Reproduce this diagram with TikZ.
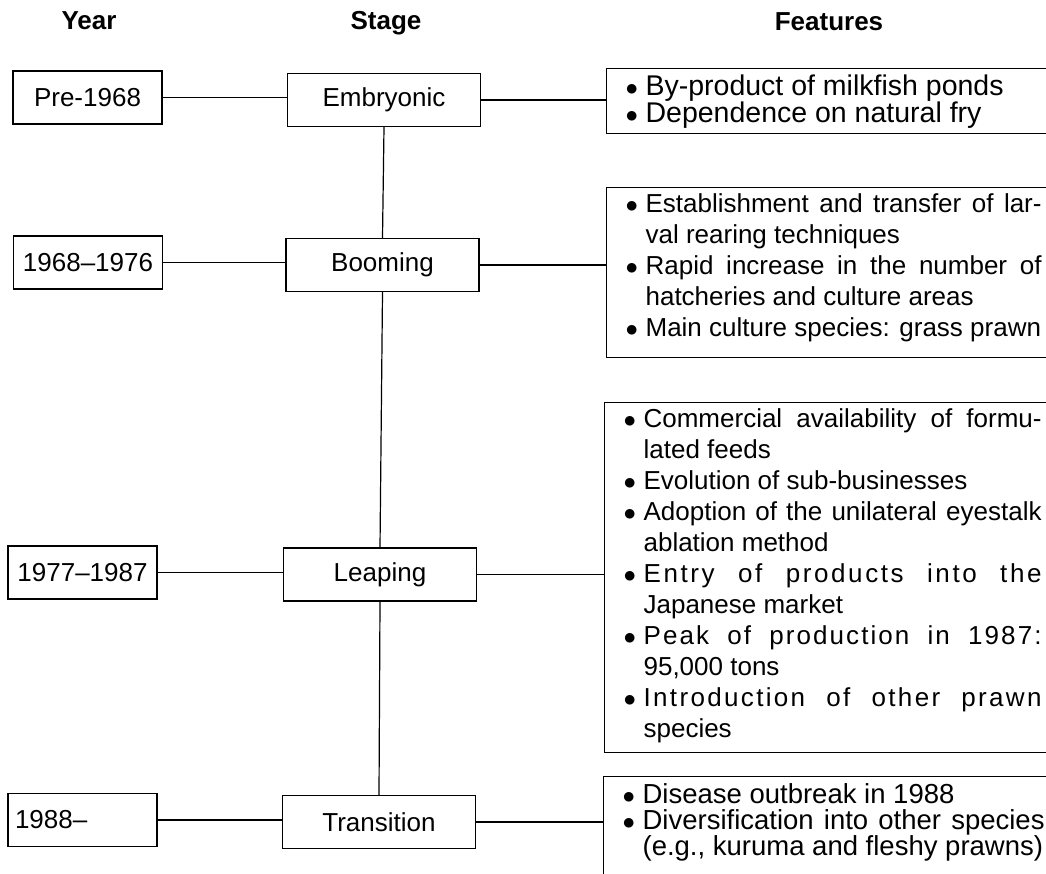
\documentclass[tikz,border=0pt]{standalone}
\usepackage{fontspec}
\setmainfont{Liberation Sans}
\newcommand{\fitem}[1]{\noindent\llap{$\bullet$\hspace{7.5pt}}#1\par}
% #1 height, #2 font size, #3 leading, #4 top space, #5 measure, #6 items
\newcommand{\fbody}[6]{%
  \makebox[470pt][l]{\parbox[t][#1][t]{#5}{%
    \fontsize{#2}{#3}\selectfont\tolerance=10000\hbadness=10000
    \leftskip=39pt\parindent=0pt\parfillskip=0pt plus 1fil
    \vspace*{#4}#6}}}
\tikzset{
  box/.style={draw, line width=1.2pt, inner sep=0pt},
  yearbox/.style={box, minimum width=149pt, minimum height=53pt, font=\fontsize{26pt}{30pt}\selectfont},
  stagebox/.style={box, minimum width=193pt, minimum height=53pt, font=\fontsize{26pt}{30pt}\selectfont},
  featbox/.style={box, anchor=north west},
  head/.style={font=\bfseries\fontsize{26pt}{30pt}\selectfont, anchor=base, inner sep=0pt},
  conn/.style={line width=1.2pt},
}
\begin{document}
\begin{tikzpicture}[x=1pt,y=-1pt]
\useasboundingbox (0,0) rectangle (1046,874);
\clip (0,0) rectangle (1046,874);
% headers
\node[head] (hy) at (89,30) {Year};
\node[head] (hs) at (386,30) {Stage};
\node[head] (hf) at (829,31) {Features};
% year boxes
\node[yearbox] (y1) at (87.5,97.5) {Pre-1968};
\node[yearbox] (y2) at (88,262.5) {1968–1976};
\node[yearbox] (y3) at (82.5,572.5) {1977–1987};
\node[yearbox] (y4) at (82.5,820) {\makebox[135pt][l]{1988–}};
% stage boxes
\node[stagebox] (s1) at (384,100) {Embryonic};
\node[stagebox] (s2) at (382.5,265) {Booming};
\node[stagebox] (s3) at (380,574.5) {Leaping};
\node[stagebox] (s4) at (379,822) {Transition};
% feature boxes
\node[featbox] (f1) at (606,68) {\fbody{65pt}{28.5pt}{26pt}{6pt}{435pt}{%
  \fitem{By-product of milkfish ponds}%
  \fitem{Dependence on natural fry}}};
\node[featbox] (f2) at (606,187) {\fbody{170pt}{26pt}{31pt}{6pt}{435pt}{%
  \fitem{Establishment and transfer of lar-\linebreak val rearing techniques}%
  \fitem{Rapid increase in the number of\linebreak hatcheries and culture areas}%
  \fitem{Main culture species: grass prawn}}};
\node[featbox] (f3) at (604,402) {\fbody{350pt}{26pt}{31pt}{6pt}{437pt}{%
  \fitem{Commercial availability of formu-\linebreak lated feeds}%
  \fitem{Evolution of sub-businesses}%
  \fitem{Adoption of the unilateral eyestalk\linebreak ablation method}%
  \fitem{{\addfontfeature{LetterSpace=10}Entry of products into the}\linebreak Japanese market}%
  \fitem{{\addfontfeature{LetterSpace=8}Peak of production in 1987:}\linebreak 95,000 tons}%
  \fitem{{\addfontfeature{LetterSpace=9}Introduction of other prawn}\linebreak species}}};
\node[featbox] (f4) at (603,776) {\fbody{120pt}{27.5pt}{25.5pt}{7pt}{441pt}{%
  \fitem{Disease outbreak in 1988}%
  \fitem{Diversification into other species\linebreak (e.g., kuruma and fleshy prawns)}}};
% connectors
\draw[conn] (s1.south) -- (s2.north);
\draw[conn] (s2.south) -- (s3.north);
\draw[conn] (s3.south) -- (s4.north);
\draw[conn] (y1.east) -- (y1.east -| s1.west);
\draw[conn] (y2.east) -- (y2.east -| s2.west);
\draw[conn] (y3.east) -- (y3.east -| s3.west);
\draw[conn] (y4.east) -- (y4.east -| s4.west);
\draw[conn] (s1.east) -- (s1.east -| f1.west);
\draw[conn] (s2.east) -- (s2.east -| f2.west);
\draw[conn] (s3.east) -- (s3.east -| f3.west);
\draw[conn] (s4.east) -- (s4.east -| f4.west);
\end{tikzpicture}
\end{document}
